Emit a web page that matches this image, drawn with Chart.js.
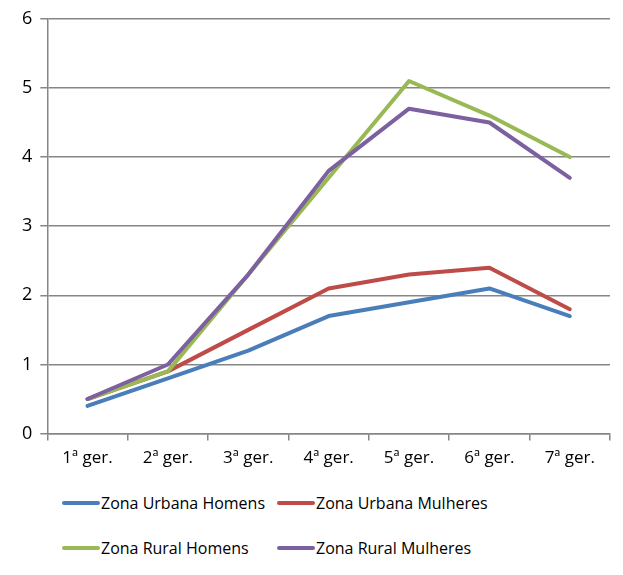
<!DOCTYPE html>
<html>
<head>
<meta charset="utf-8">
<script src="https://cdn.jsdelivr.net/npm/chart.js@4"></script>
<style>
  html,body{margin:0;padding:0;background:#fff}
  body{width:623px;height:575px;position:relative;overflow:hidden;font-family:"Open Sans",sans-serif}
  #wrap{position:absolute;left:0;top:0;width:623px;height:475px}
  .leg{position:absolute;display:flex;align-items:center;font-size:16px;color:#000;white-space:nowrap}
  .leg span.sw{display:inline-block;width:38px;height:4px;border-radius:2px;margin-right:1px}
</style>
</head>
<body>
<div id="wrap"><canvas id="c"></canvas></div>
<div id="legend"></div>
<script>
const categories = ['1ª ger.','2ª ger.','3ª ger.','4ª ger.','5ª ger.','6ª ger.','7ª ger.'];
const urbanaHomens   = [0.4, 0.8, 1.2, 1.7, 1.9, 2.1, 1.7];
const urbanaMulheres = [0.5, 0.9, 1.5, 2.1, 2.3, 2.4, 1.8];
const ruralHomens    = [0.5, 0.9, 2.3, 3.7, 5.1, 4.6, 4.0];
const ruralMulheres  = [0.5, 1.0, 2.3, 3.8, 4.7, 4.5, 3.7];
const seriesNames = ['Zona Urbana Homens','Zona Urbana Mulheres','Zona Rural Homens','Zona Rural Mulheres'];
const seriesColors = ['#4a7ebb','#be4b48','#98b954','#7d60a0'];

const allSeries = [urbanaHomens, urbanaMulheres, ruralHomens, ruralMulheres];
const datasets = allSeries.map((d, i) => ({
  label: seriesNames[i],
  data: d,
  borderColor: seriesColors[i],
  backgroundColor: seriesColors[i],
  borderWidth: 4,
  pointRadius: 0,
  tension: 0,
  order: 4 - i,
  borderCapStyle: 'round',
  borderJoinStyle: 'round'
}));

const axisGray = '#868686';
new Chart(document.getElementById('c'), {
  type: 'line',
  data: { labels: categories, datasets },
  options: {
    responsive: true, maintainAspectRatio: false, animation: false,
    layout: { padding: { top: 13, right: 13, left: 14, bottom: 0 } },
    plugins: { legend: { display: false }, tooltip: { enabled: false } },
    scales: {
      x: {
        offset: true,
        grid: { display: true, drawOnChartArea: false, color: axisGray, lineWidth: 1.5, tickLength: 7, offset: true },
        border: { color: axisGray, width: 1.5 },
        ticks: { font: { family: 'Open Sans', size: 17 }, color: '#000', padding: 7, maxRotation: 0 }
      },
      y: {
        min: 0, max: 6,
        grid: { color: axisGray, lineWidth: 1.5, tickLength: 7 },
        border: { color: axisGray, width: 1.5 },
        ticks: { stepSize: 1, font: { family: 'Open Sans', size: 18 }, color: '#000', padding: 8 }
      }
    }
  }
});

// legend below the chart, two columns
const legPos = [[62,492],[277,492],[62,537],[277,537]];
const legend = document.getElementById('legend');
seriesNames.forEach((n, i) => {
  const el = document.createElement('div');
  el.className = 'leg';
  el.style.left = legPos[i][0] + 'px';
  el.style.top = legPos[i][1] + 'px';
  el.innerHTML = `<span class="sw" style="background:${seriesColors[i]}"></span>${n}`;
  legend.appendChild(el);
});
</script>
</body>
</html>
